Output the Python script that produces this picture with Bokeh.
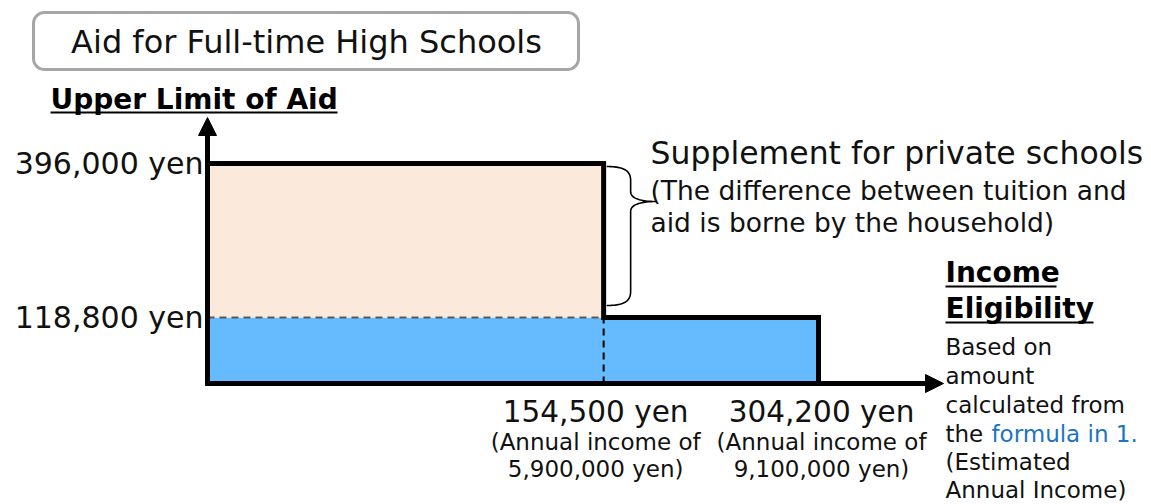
import numpy as np
from bokeh.plotting import figure
from bokeh.models import Range1d, Arrow, NormalHead
from bokeh.core.properties import value
from bokeh.embed import file_html
from bokeh.resources import INLINE

FONT = "DejaVu Sans"

# ---------------- data ----------------
threshold_labels = ["154,500 yen", "304,200 yen"]        # income-eligibility amounts
annual_income = [5900000, 9100000]                         # corresponding annual incomes (yen)
annual_income_labels = ["5,900,000 yen", "9,100,000 yen"]
aid_limits = [396000, 118800]                              # upper limit of aid (private, public)
aid_labels = ["396,000 yen", "118,800 yen"]

title_text = "Aid for Full-time High Schools"
y_title = "Upper Limit of Aid"
x_title = ["Income", "Eligibility"]
x_note = ["Based on", "amount", "calculated from", "the ", "(Estimated", "Annual Income)"]
x_note_link = "formula in 1."
supp_title = "Supplement for private schools"
supp_note = ["(The difference between tuition and", "aid is borne by the household)"]

# ---------------- layout (page pixels) ----------------
W, H = 1151, 504
OX, OY = 0, 0
PX0, PX1 = 207, 818        # page x of zero and of the top income
PY0, PY1 = 383, 163        # page y of zero and of the top aid limit
kx = (PX1 - PX0) / annual_income[1]
ky = (PY0 - PY1) / aid_limits[0]

def px(x): return PX0 + x * kx
def py(y): return PY0 - y * ky
def dx(X): return (np.asarray(X, dtype=float) - PX0) / kx
def dy(Y): return (PY0 - np.asarray(Y, dtype=float)) / ky
def fx(X): return float(dx(X))
def fy(Y): return float(dy(Y))

p = figure(width=W, height=H, x_range=Range1d(fx(OX), fx(OX + W)),
           y_range=Range1d(fy(OY + H), fy(OY)), output_backend="svg",
           toolbar_location=None, min_border=0, x_axis_type=None, y_axis_type=None)
p.grid.visible = False
p.outline_line_color = None
p.background_fill_color = "white"

inc0, inc1 = annual_income
lim0, lim1 = aid_limits

# bars
p.quad(left=[0], right=[inc1], bottom=[0], top=[lim1], fill_color="#66BBFF", line_color=None)
p.quad(left=[0], right=[inc0], bottom=[lim1], top=[lim0], fill_color="#FBE9DB", line_color=None)

# dashed guides
p.line([0, inc0], [lim1, lim1], line_color="#595959", line_width=2, line_dash="7 5")
p.line([inc0, inc0], [0, lim1], line_color="black", line_width=2, line_dash="7 5")

# step outline
p.line([0, inc0, inc0, inc1, inc1], [lim0, lim0, lim1, lim1, 0],
       line_color="black", line_width=5, line_join="miter")

# axes with arrows
p.line([0, 0, fx(900)], [fy(150), 0, 0], line_color="black", line_width=5, line_join="miter")
p.add_layout(Arrow(end=NormalHead(size=18, fill_color="black", line_color="black"),
                   x_start=0, y_start=fy(200), x_end=0, y_end=fy(117),
                   line_width=5, line_color="black"))
p.add_layout(Arrow(end=NormalHead(size=18, fill_color="black", line_color="black"),
                   x_start=fx(850), y_start=0, x_end=fx(943), y_end=0,
                   line_width=5, line_color="black"))

# curly brace between the two limits
def bez(a, b, c, d, n=24):
    t = np.linspace(0, 1, n)[:, None]
    a, b, c, d = map(np.array, (a, b, c, d))
    return ((1 - t) ** 3) * a + 3 * ((1 - t) ** 2) * t * b + 3 * (1 - t) * t * t * c + t ** 3 * d

bx0 = px(inc0) + 3
bx1 = bx0 + 24
tipx = bx0 + 50
top = py(lim0) + 3
bot = py(lim1) - 12
tipy = top + 35
pts = np.vstack([
    bez((bx0, top), (bx0 + 17, top), (bx1, top + 4), (bx1, top + 14)),
    bez((bx1, tipy - 10), (bx1, tipy - 2), (bx1 + 13, tipy), (tipx, tipy)),
    bez((tipx, tipy), (bx1 + 13, tipy), (bx1, tipy + 2), (bx1, tipy + 10)),
    bez((bx1, bot - 14), (bx1, bot - 4), (bx0 + 17, bot), (bx0, bot)),
])
p.line(dx(pts[:, 0]), dy(pts[:, 1]), line_color="black", line_width=1.6)

# title box (rounded rectangle)
def rounded(x0, y0, x1, y1, r, n=10):
    xs, ys = [], []
    for cx, cy, a0 in [(x1 - r, y0 + r, -90), (x1 - r, y1 - r, 0), (x0 + r, y1 - r, 90), (x0 + r, y0 + r, 180)]:
        a = np.radians(np.linspace(a0, a0 + 90, n))
        xs += list(cx + r * np.cos(a)); ys += list(cy + r * np.sin(a))
    return np.array(xs), np.array(ys)

rx, ry = rounded(33, 12, 578, 69, 11)
p.patch(dx(rx), dy(ry), fill_color="white", line_color="#A6A6A6", line_width=3)
p.text(x=[fx(306)], y=[fy(41)], text=[title_text], text_font=value(FONT),
       text_font_size="32px", text_align="center", text_baseline="middle", text_color="#111111")

# y title with underline
p.text(x=[fx(50)], y=[fy(99)], text=[y_title], text_font=value(FONT), text_font_size="28px",
       text_font_style="bold", text_align="left", text_baseline="middle", text_color="black")
p.line([fx(50), fx(337)], [fy(112)] * 2, line_color="black", line_width=2)

# y tick labels
p.text(x=[fx(203)] * 2, y=aid_limits, text=aid_labels, text_font=value(FONT),
       text_font_size="30px", text_align="right", text_baseline="middle", text_color="#111111")

# x tick labels
lab_off = [-8, 3]
p.text(x=annual_income, y=[fy(411)] * 2, text=threshold_labels, text_font=value(FONT),
       text_font_size="29.5px", text_align="center", text_baseline="middle", text_color="#111111",
       x_offset=lab_off)
p.text(x=annual_income, y=[fy(441)] * 2, text=["(Annual income of"] * 2, text_font=value(FONT),
       text_font_size="23px", text_align="center", text_baseline="middle", text_color="#111111",
       x_offset=lab_off)
p.text(x=annual_income, y=[fy(468)] * 2, text=[s + ")" for s in annual_income_labels],
       text_font=value(FONT), text_font_size="23px", text_align="center",
       text_baseline="middle", text_color="#111111", x_offset=lab_off)

# supplement annotation
p.text(x=[fx(650)], y=[fy(152)], text=[supp_title], text_font=value(FONT),
       text_font_size="31.5px", text_align="left", text_baseline="middle", text_color="#111111")
p.text(x=[fx(650)] * 2, y=[fy(190), fy(222)], text=supp_note, text_font=value(FONT),
       text_font_size="26.5px", text_align="left", text_baseline="middle", text_color="#111111")

# x title with underlines
p.text(x=[fx(945)] * 2, y=[fy(272), fy(308)], text=x_title, text_font=value(FONT),
       text_font_size="28px", text_font_style="bold", text_align="left", text_baseline="middle",
       text_color="black")
p.line([fx(945), fx(1056)], [fy(286)] * 2, line_color="black", line_width=2)
p.line([fx(945), fx(1093)], [fy(322)] * 2, line_color="black", line_width=2)

# x note
note_y = [346, 375, 404, 433, 461, 489]
p.text(x=[fx(945)] * len(x_note), y=[fy(v) for v in note_y], text=x_note, text_font=value(FONT),
       text_font_size="23px", text_align="left", text_baseline="middle", text_color="#111111")
p.text(x=[fx(991)], y=[fy(433)], text=[x_note_link], text_font=value(FONT),
       text_font_size="23px", text_align="left", text_baseline="middle", text_color="#1A74C4")

open("out.html", "w").write(file_html(p, INLINE))
